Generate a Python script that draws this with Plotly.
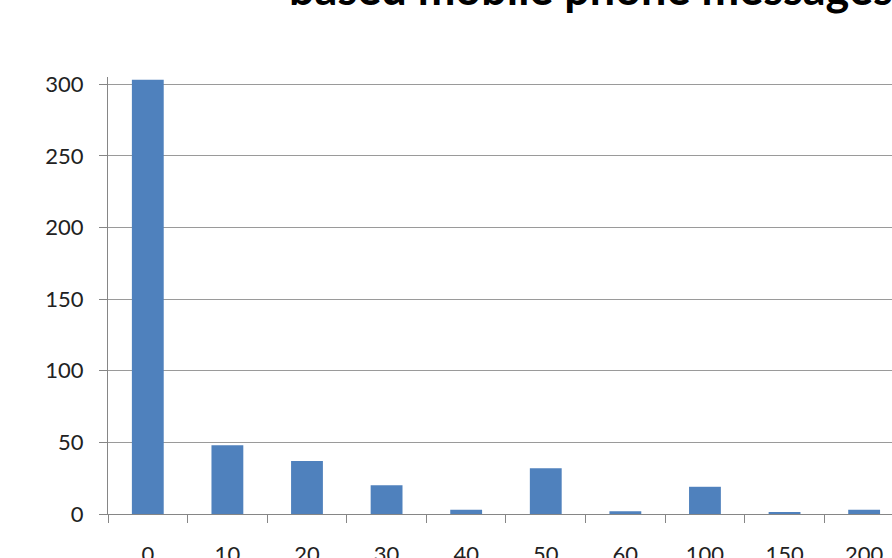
import plotly.graph_objects as go

# Message-count bins and number of respondents in each bin
categories = ["0", "10", "20", "30", "40", "50", "60", "100", "150", "200"]
counts = [303, 48, 37, 20, 3, 32, 2, 19, 1, 3]
y_ticks = [0, 50, 100, 150, 200, 250, 300]

title_text = "based mobile phone messages"

W, H = 892, 558
ML, MT, MB = 108, 77, 44
plot_w = W - ML

fig = go.Figure(
    go.Bar(
        x=categories,
        y=counts,
        marker=dict(color="#4F81BD", line=dict(width=0)),
        hoverinfo="x+y",
    )
)

fig.update_layout(
    width=W,
    height=H,
    margin=dict(l=ML, r=0, t=MT, b=MB, pad=0),
    paper_bgcolor="white",
    plot_bgcolor="white",
    bargap=0.6,
    showlegend=False,
    font=dict(family="Lato, Liberation Sans, sans-serif", size=22, color="#222222"),
)

fig.update_xaxes(
    type="category",
    range=[-0.5, 9.35],
    showgrid=False,
    showline=True,
    linecolor="#868686",
    linewidth=1,
    ticks="outside",
    tickson="boundaries",
    ticklen=8,
    tickcolor="#868686",
    ticklabelstandoff=21,
    automargin=False,
)

fig.update_yaxes(
    range=[0, 305],
    tickvals=y_ticks,
    showgrid=True,
    gridcolor="#9a9a9a",
    gridwidth=1,
    showline=True,
    linecolor="#868686",
    linewidth=1,
    ticks="outside",
    ticklen=8,
    tickcolor="#868686",
    ticklabelstandoff=11,
    zeroline=False,
    automargin=False,
)

fig.add_annotation(
    text="<b>" + title_text + "</b>",
    xref="paper",
    yref="paper",
    x=(287 - ML) / plot_w,
    y=1,
    xanchor="left",
    yanchor="bottom",
    yshift=MT - 17,
    showarrow=False,
    font=dict(family="Lato, Liberation Sans, sans-serif", size=45, color="black"),
)

fig.write_html("out.html")
